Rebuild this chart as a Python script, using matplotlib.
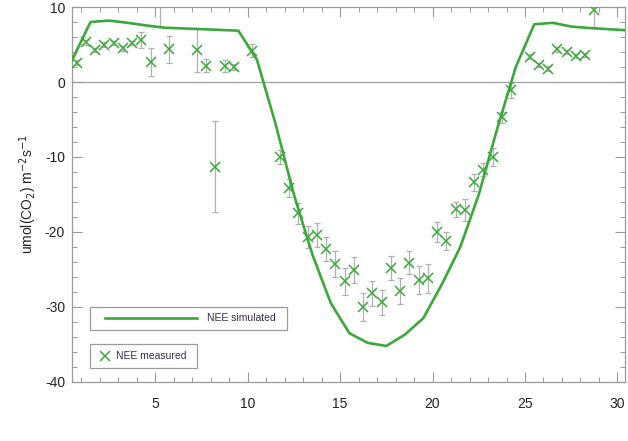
import matplotlib
matplotlib.use("Agg")
import matplotlib.pyplot as plt
from matplotlib.patches import Rectangle
from matplotlib.lines import Line2D

plt.rcParams['font.family'] = ['Liberation Sans', 'DejaVu Sans']
plt.rcParams['axes.unicode_minus'] = False

# simulated NEE (half-day steps)
sim_x = [0.5, 1.5, 2.5, 3.5, 4.5, 5.5, 6.5, 7.5, 8.5, 9.5, 10.5, 11.5, 12.5, 13.5, 14.5, 15.5,
         16.5, 17.5, 18.5, 19.5, 20.5, 21.5, 22.5, 23.5, 24.5, 25.5, 26.5, 27.5, 28.5, 29.5, 30.5]
sim_y = [2.9, 8.0, 8.2, 7.9, 7.55, 7.25, 7.15, 7.05, 6.95, 6.85, 3.0, -5.5, -15.0, -23.0, -29.5, -33.5,
         -34.8, -35.2, -33.7, -31.5, -27.0, -22.0, -15.0, -6.2, 2.0, 7.7, 7.9, 7.4, 7.2, 7.05, 6.9]

# measured NEE with error
meas_x = [0.75, 1.25, 1.75, 2.25, 2.75, 3.25, 3.75, 4.25, 4.75, 5.25, 5.75,
          7.25, 7.75, 8.25, 8.75, 9.25, 10.25,
          11.75, 12.25, 12.75, 13.25, 13.75, 14.25, 14.75, 15.25, 15.75, 16.25, 16.75, 17.25, 17.75,
          18.25, 18.75, 19.25, 19.75, 20.25, 20.75, 21.25, 21.75, 22.25, 22.75, 23.25, 23.75, 24.25,
          25.25, 25.75, 26.25, 26.75, 27.25, 27.75, 28.25, 28.75]
meas_y = [2.6, 5.3, 4.3, 5.0, 5.2, 4.5, 5.2, 5.6, 2.7, 12.5, 4.35,
          4.3, 2.2, -11.3, 2.2, 2.0, 4.2,
          -10.0, -14.2, -17.5, -20.7, -20.4, -22.3, -24.3, -26.6, -25.1, -30.0, -28.2, -29.4, -24.8,
          -27.9, -24.1, -26.4, -26.2, -20.0, -21.2, -17.0, -17.1, -13.4, -11.7, -10.0, -4.7, -1.1,
          3.4, 2.3, 1.8, 4.35, 4.0, 3.5, 3.6, 9.6]
meas_err = [0.3, 0.3, 0.3, 0.3, 0.3, 0.3, 0.3, 1.1, 1.9, 5.1, 1.8,
            2.9, 0.9, 6.1, 0.8, 0.4, 0.9,
            0.9, 1.2, 1.4, 1.5, 1.6, 1.6, 1.7, 1.8, 1.7, 1.9, 1.7, 1.7, 1.6,
            1.7, 1.5, 1.9, 1.9, 1.3, 1.2, 1.0, 1.5, 1.1, 0.9, 1.2, 0.7, 1.0,
            0.3, 0.3, 0.3, 0.3, 0.3, 0.3, 0.3, 2.2]

green = '#3aa83a'
frame = '#9a9a9a'

fig = plt.figure(figsize=(6.28, 4.41), dpi=100)
ax = fig.add_axes([0.1146, 0.134, 0.8804, 0.850])

ax.axhline(0, color='#a0a0a0', lw=0.9, zorder=1)
ax.errorbar(meas_x, meas_y, yerr=meas_err, fmt='none', ecolor='#b0b0b0', elinewidth=0.9,
            capsize=2.5, capthick=0.9, zorder=2)
ax.plot(sim_x, sim_y, color=green, lw=1.9, zorder=3)
ax.plot(meas_x, meas_y, 'x', color=green, ms=7.5, mew=1.1, ls='none', zorder=4)

ax.set_xlim(0.5, 30.4)
ax.set_ylim(-40, 10)
ax.set_xticks([5, 10, 15, 20, 25, 30])
ax.set_xticks(range(1, 31), minor=True)
ax.set_yticks([-40, -30, -20, -10, 0, 10])
ax.set_yticks(range(-40, 11, 2), minor=True)
ax.tick_params(which='both', direction='in', top=True, right=True, colors=frame,
               labelcolor='#222222', labelsize=10)
ax.tick_params(which='major', length=7, width=0.8)
ax.tick_params(which='minor', length=3.5, width=0.7)
ax.tick_params(axis='x', pad=11)
ax.tick_params(axis='y', pad=5)
for s in ax.spines.values():
    s.set_color(frame)
    s.set_linewidth(0.9)
ax.set_ylabel('umol(CO$_2$) m$^{-2}$s$^{-1}$', fontsize=10, color='#222222', labelpad=4)

# legend boxes
tc = '#3a2d4a'
ax.add_patch(Rectangle((0.0325, 0.1387), 0.3563, 0.0613, transform=ax.transAxes, fill=False,
                       ec=frame, lw=0.9, zorder=5))
ax.add_line(Line2D([0.0597, 0.226], [0.1693, 0.1693], transform=ax.transAxes, color=green, lw=1.9,
                   zorder=5))
ax.text(0.244, 0.1693, 'NEE simulated', transform=ax.transAxes, fontsize=7.5, color=tc,
        va='center', ha='left', zorder=5)
ax.add_patch(Rectangle((0.0325, 0.0373), 0.1935, 0.064, transform=ax.transAxes, fill=False,
                       ec=frame, lw=0.9, zorder=5))
ax.add_line(Line2D([0.0597], [0.0693], transform=ax.transAxes, marker='x', color=green, ms=7.5,
                   mew=1.1, ls='none', zorder=5))
ax.text(0.0796, 0.0693, 'NEE measured', transform=ax.transAxes, fontsize=7.5, color=tc,
        va='center', ha='left', zorder=5)

fig.savefig('out.png', dpi=100)
